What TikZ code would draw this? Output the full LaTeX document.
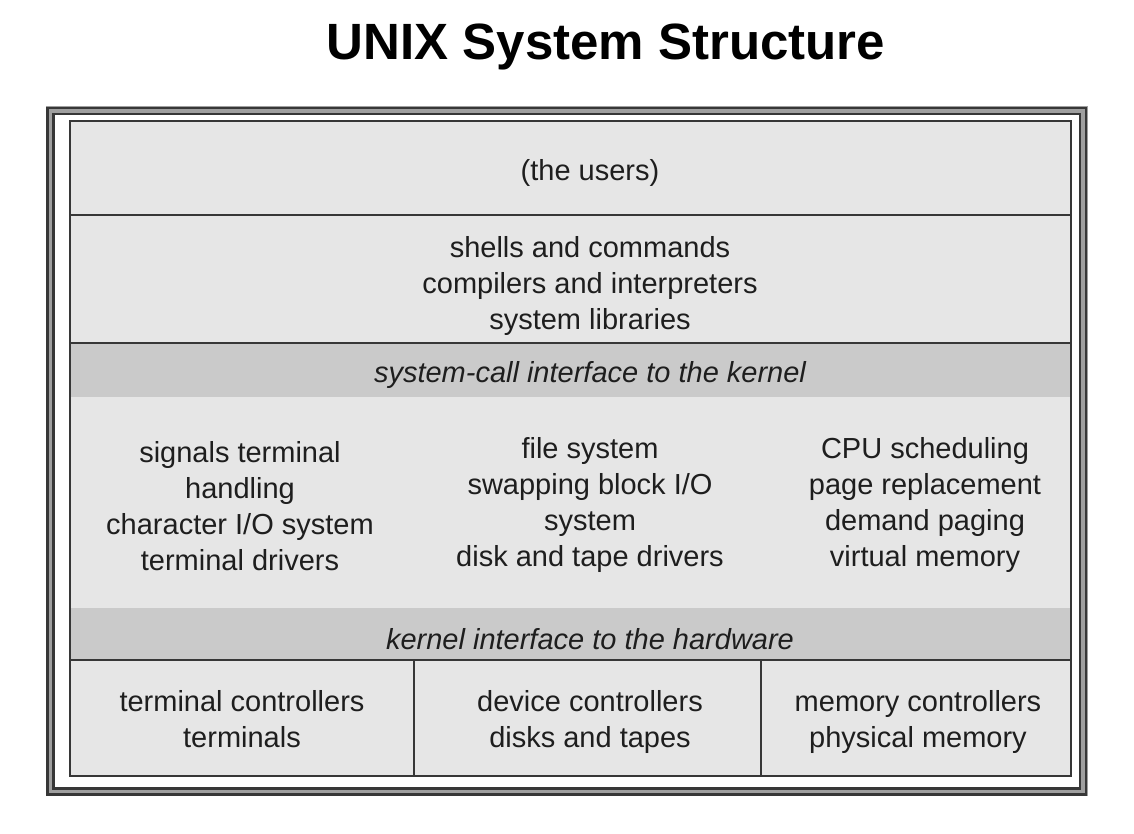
\documentclass[tikz,border=0pt]{standalone}
\usepackage{fontspec}
\setmainfont{Liberation Sans}
\usetikzlibrary{positioning}
\definecolor{layergray}{RGB}{230,230,230}
\definecolor{bandgray}{RGB}{202,202,202}
\definecolor{linegray}{RGB}{55,55,55}
\definecolor{textgray}{RGB}{30,30,30}

\begin{document}
\begin{tikzpicture}[x=0.5pt, y=-0.5pt,
  every node/.style={font=\fontsize{14.5}{18}\selectfont, text=textgray, align=center},
  band/.style={font=\fontsize{14.5}{18}\selectfont\itshape},
  rule/.style={draw=linegray, line width=1.3pt}]
\useasboundingbox (0,0) rectangle (1134,834);

% Title
\node[font=\fontsize{25.5}{30}\selectfont\bfseries, text=black] (title) at (606,47) {UNIX System Structure};

% Outer frame
\draw[gray!75, line width=4.5pt] (50.5,111) rectangle (1083,791.5);
\draw[linegray, line width=1.1pt] (47.5,108) rectangle (1086,794.5);
\draw[linegray, line width=1.1pt] (53.5,114) rectangle (1080,788.5);

% Layers
\fill[layergray] (70,121) rectangle (1071,776);
\fill[bandgray] (70,343) rectangle (1071,397);
\fill[bandgray] (70,608) rectangle (1071,660);
\draw[rule] (70,215) -- (1071,215);
\draw[rule] (70,343) -- (1071,343);
\draw[rule] (70,660) -- (1071,660);
\draw[rule] (414,660) -- (414,776);
\draw[rule] (761,660) -- (761,776);
\draw[rule] (70,121) rectangle (1071,776);

\node (users) at (590,173) {(the users)};
\node (shells) at (590,286) {shells and commands\\compilers and interpreters\\system libraries};
\node[band] (syscall) at (590,375) {system-call interface to the kernel};

\node (signals) at (240,506) {signals terminal\\handling\\character I/O system\\terminal drivers};
\node (filesys) at (590,504.5) {file system\\swapping block I/O\\system\\disk and tape drivers};
\node (cpu) at (925,504.5) {CPU scheduling\\page replacement\\demand paging\\virtual memory};

\node[band] (hwiface) at (590,639) {kernel interface to the hardware};

\node (terminals) at (242,719) {terminal controllers\\terminals};
\node (devices) at (590,722) {device controllers\\disks and tapes};
\node (memory) at (918,722) {memory controllers\\physical memory};
\end{tikzpicture}
\end{document}
